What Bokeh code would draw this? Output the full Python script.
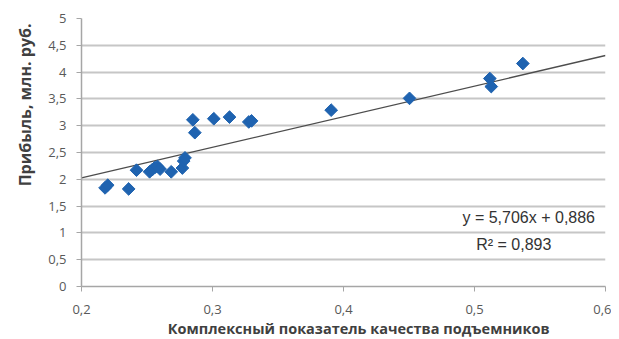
import math
from bokeh.plotting import figure
from bokeh.models import ColumnDataSource, Label, Title, FixedTicker, CustomJSTickFormatter, Range1d
from bokeh.embed import file_html
from bokeh.resources import INLINE

# Data
quality_index = [0.218, 0.220, 0.236, 0.242, 0.252, 0.254, 0.256, 0.258, 0.260,
                 0.2685, 0.277, 0.278, 0.279, 0.285, 0.2865, 0.301, 0.313,
                 0.3277, 0.3298, 0.3906, 0.4504, 0.5117, 0.5128, 0.5369]
profit = [1.84, 1.89, 1.82, 2.17, 2.14, 2.18, 2.22, 2.24, 2.19,
          2.14, 2.21, 2.34, 2.40, 3.11, 2.87, 3.13, 3.16,
          3.07, 3.09, 3.29, 3.51, 3.88, 3.73, 4.16]

trend_slope = 5.706
trend_intercept = 0.886
r_squared = 0.893

x_ticks = [0.2, 0.3, 0.4, 0.5, 0.6]
y_ticks = [0, 0.5, 1, 1.5, 2, 2.5, 3, 3.5, 4, 4.5, 5]

x_title = "Комплексный показатель качества подъемников"
y_title = "Прибыль, млн. руб."

FONT = "Open Sans"
TICK_COLOR = "#595959"

p = figure(width=611, height=339, output_backend="svg", toolbar_location=None,
           x_range=Range1d(0.2, 0.6), y_range=Range1d(0, 5),
           min_border_left=81, min_border_right=6, min_border_top=18, min_border_bottom=53)
p.outline_line_color = None
p.background_fill_color = "white"

# grid
p.xgrid.grid_line_color = None
p.ygrid.ticker = FixedTicker(ticks=y_ticks)
p.ygrid.grid_line_color = "#c6c6c6"
p.ygrid.grid_line_width = 2

fmt = CustomJSTickFormatter(code="return String(Math.round(tick*10)/10).replace('.', ',');")

# x axis
xa = p.xaxis[0]
xa.ticker = FixedTicker(ticks=x_ticks)
xa.formatter = fmt
xa.axis_line_color = "#a6a6a6"
xa.axis_line_width = 1.5
xa.major_tick_line_color = "#a6a6a6"
xa.major_tick_out = 5
xa.major_tick_in = 0
xa.minor_tick_line_color = None
xa.major_label_text_font = FONT
xa.major_label_text_font_size = "13px"
xa.major_label_text_color = TICK_COLOR
xa.major_label_standoff = 13

# y axis
ya = p.yaxis[0]
ya.ticker = FixedTicker(ticks=y_ticks)
ya.formatter = fmt
ya.axis_line_color = "#a6a6a6"
ya.axis_line_width = 1.5
ya.major_tick_line_color = "#a6a6a6"
ya.major_tick_out = 5
ya.major_tick_in = 0
ya.minor_tick_line_color = None
ya.major_label_text_font = FONT
ya.major_label_text_font_size = "13px"
ya.major_label_text_color = TICK_COLOR
ya.major_label_standoff = 10

# axis titles as side titles (allow offset along the axis)
p.add_layout(Title(text=x_title, align="right", offset=56, standoff=0,
                   text_font=FONT, text_font_size="14.5px", text_font_style="bold",
                   text_color="#404040"), "below")
p.add_layout(Title(text=y_title, align="right", offset=5, standoff=20,
                   text_font=FONT, text_font_size="16px", text_font_style="bold",
                   text_color="#404040"), "left")

# trend line
x0, x1 = p.x_range.start, p.x_range.end
p.line([x0, x1], [trend_slope * x0 + trend_intercept, trend_slope * x1 + trend_intercept],
       line_color="#4d4d4d", line_width=1.3)

# points
src = ColumnDataSource(dict(x=quality_index, y=profit))
p.scatter("x", "y", source=src, marker="square", angle=math.pi / 4, size=9,
          fill_color="#1f63b0", line_color="#1f63b0")

def fmt_num(v):
    return f"{v:.3f}".replace(".", ",")

p.add_layout(Label(x=0.592, y=1.28, text=f"y = {fmt_num(trend_slope)}x + {fmt_num(trend_intercept)}",
                   text_align="right", text_baseline="middle", text_font="Liberation Sans",
                   text_font_size="16px", text_color="#333333"))
p.add_layout(Label(x=0.53, y=0.78, text=f"R² = {fmt_num(r_squared)}",
                   text_align="center", text_baseline="middle", text_font="Liberation Sans",
                   text_font_size="16px", text_color="#333333"))

open("out.html", "w").write(file_html(p, INLINE))
